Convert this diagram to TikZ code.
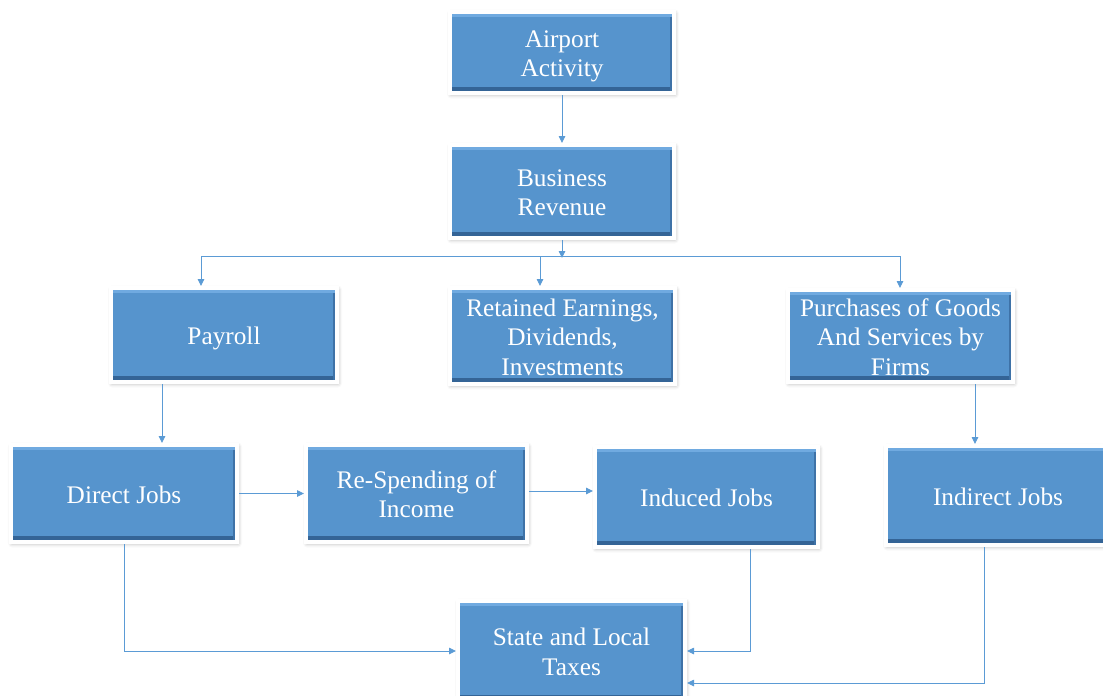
\documentclass[tikz,border=0pt]{standalone}
\usepackage{fontspec}
\setmainfont{Liberation Serif}
\usetikzlibrary{arrows.meta,shadows.blur}
\definecolor{boxblue}{RGB}{86,148,205}
\definecolor{boxdark}{RGB}{52,100,150}
\definecolor{boxlight}{RGB}{112,170,224}
\definecolor{linkblue}{RGB}{91,155,213}
\newcommand\myTop{\rule{0pt}{26pt}}
\newcommand\myBot{\rule[-7pt]{0pt}{7pt}}
\tikzset{
  box/.style={rectangle, fill=boxblue, draw=white, line width=4pt, text=white,
    align=center, font=\fontsize{25.3}{29.5}\selectfont, inner sep=0pt,
    blur shadow={shadow xshift=1pt, shadow yshift=-1.5pt, shadow blur radius=4pt, shadow opacity=35},
    path picture={
      \fill[boxdark] ([yshift=-1pt]path picture bounding box.south west) rectangle ([yshift=6pt]path picture bounding box.south east);
      \fill[boxdark!70!boxblue] ([xshift=-4.5pt]path picture bounding box.south east) rectangle (path picture bounding box.north east);
      \fill[boxlight] (path picture bounding box.north west) rectangle ([yshift=-4.5pt]path picture bounding box.north east);
    }},
  link/.style={draw=linkblue, line width=0.9pt, -{Triangle[length=7pt,width=6.5pt]}},
  plain/.style={draw=linkblue, line width=0.9pt}
}
\begin{document}
\begin{tikzpicture}[x=1pt,y=-1pt]
\useasboundingbox (0,0) rectangle (1103,696);
\clip (0,0) rectangle (1103,696);
% nodes
\node[box, minimum width=224pt, minimum height=81pt] (air) at (562,52.5) {\myTop Airport\\Activity\myBot};
\node[box, minimum width=224pt, minimum height=93pt] (bus) at (562,191.5) {\myTop Business\\Revenue\myBot};
\node[box, minimum width=226pt, minimum height=94pt] (pay) at (224,335) {\myTop Payroll\myBot};
\node[box, minimum width=225pt, minimum height=96pt] (ret) at (562.5,336) {\myTop Retained Earnings,\\Dividends,\\Investments\myBot};
\node[box, minimum width=225pt, minimum height=92pt] (pur) at (900.5,336) {\myTop Purchases of Goods\\And Services by\\Firms\myBot};
\node[box, minimum width=226pt, minimum height=97pt] (dir) at (124,493.5) {\myTop Direct Jobs\myBot};
\node[box, minimum width=221pt, minimum height=97pt] (res) at (416.5,493.5) {\myTop Re-Spending of\\Income\myBot};
\node[box, minimum width=223pt, minimum height=100pt] (ind) at (706.5,497) {\myTop Induced Jobs\myBot};
\node[box, minimum width=224pt, minimum height=99pt] (indir) at (998,495.5) {\myTop Indirect Jobs\myBot};
\node[box, minimum width=227pt, minimum height=100pt] (tax) at (571.5,651) {\myTop State and Local\\Taxes\myBot};
% helper coordinates
\coordinate (j) at (562,258);
\coordinate (hl) at (201,256);
\coordinate (hm) at (540,256);
\coordinate (hr) at (900,256);
\coordinate (p1) at (162,0);
\coordinate (r1) at (0,491);
\coordinate (q1) at (975,0);
\coordinate (i1) at (750,0);
\coordinate (k1) at (984,683);
% connectors
\draw[link] (air.south) -- (bus.north);
\draw[plain] (hl) -- (hr);
\draw[link] (bus.south) -- (j);
\draw[link] (hl) -- (hl |- pay.north);
\draw[link] (hm) -- (hm |- ret.north);
\draw[link] (hr) -- (hr |- pur.north);
\draw[link] (pay.south -| p1) -- (dir.north -| p1);
\draw[link] (dir.east) -- (res.west);
\draw[link] (res.east |- r1) -- (ind.west |- r1);
\draw[link] (pur.south -| q1) -- (indir.north -| q1);
\draw[link] (dir.south) |- (tax.west);
\draw[link] (ind.south -| i1) |- (tax.east);
\draw[link] (indir.south -| k1) |- (tax.east |- k1);
\end{tikzpicture}
\end{document}
